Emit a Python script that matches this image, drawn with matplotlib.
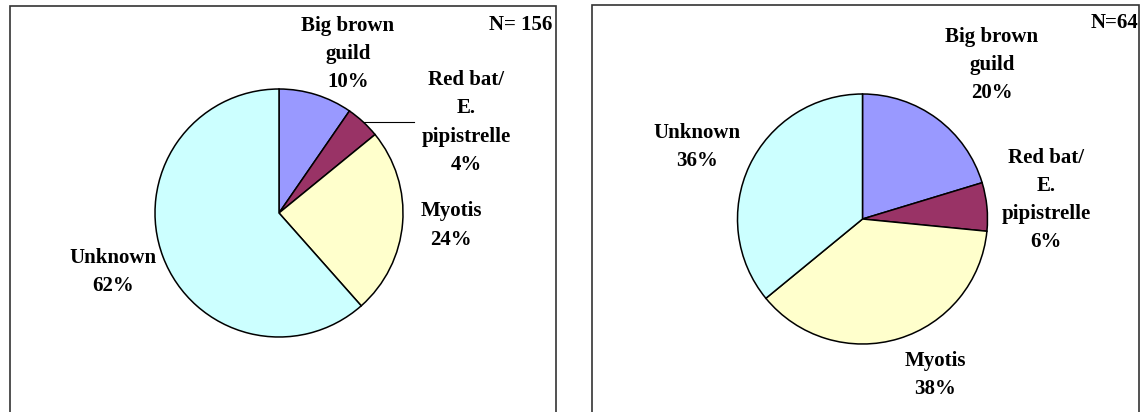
import numpy as np
import matplotlib
matplotlib.use('Agg')
import matplotlib.pyplot as plt
from matplotlib.patches import Rectangle

# data: call counts per species group
groups = ["Big brown\nguild", "Red bat/\nE.\npipistrelle", "Myotis", "Unknown"]
colors = ["#9999FF", "#993366", "#FFFFCC", "#CCFFFF"]
counts_left = [15, 7, 38, 96]     # N = 156
counts_right = [13, 4, 24, 23]    # N = 64
n_left_label = "N= 156"
n_right_label = "N=64"

W, H = 1141, 412
fig = plt.figure(figsize=(W / 100, H / 100), dpi=100)
ax = fig.add_axes([0, 0, 1, 1])

def fy(y):
    # convert top-based pixel y to data y
    return H - y

font = dict(family=['Liberation Serif', 'DejaVu Serif'], weight='bold', fontsize=15)


def draw_panel(counts, center, radius, label_pos, n_label, n_pos, leader=None):
    total = sum(counts)
    wedges, _ = ax.pie(counts, colors=colors, startangle=90, counterclock=False,
                       center=(center[0], fy(center[1])), radius=radius,
                       wedgeprops=dict(edgecolor='black', linewidth=1.1))
    for name, c, pos in zip(groups, counts, label_pos):
        pct = round(c / total * 100)
        ax.text(pos[0], fy(pos[1]), f"{name}\n{pct}%", ha='center', va='center',
                linespacing=1.55, **font)
    ax.text(n_pos[0], fy(n_pos[1]), n_label, ha='right', va='center', **font)

    # leader line for the small slice
    if leader is not None:
        i, x_end = leader
        w = wedges[i]
        ang = np.deg2rad((w.theta1 + w.theta2) / 2)
        x0 = center[0] + radius * np.cos(ang)
        y0 = fy(center[1]) + radius * np.sin(ang)
        ax.plot([x0, x_end], [y0, y0], color='black', linewidth=0.8)


draw_panel(counts_left, (279, 213), 124,
           [(348, 54), (466, 122.5), (451, 225.5), (113, 272)],
           n_left_label, (552, 25), leader=(1, 414))

draw_panel(counts_right, (862.5, 219), 125,
           [(992, 65), (1046, 200), (935, 375), (697, 147)],
           n_right_label, (1138, 23))

# panel frames (bottom edges run off the picture)
for x0, x1, top in [(9.5, 555.5, 6), (591.5, 1139, 5)]:
    ax.add_patch(Rectangle((x0, -20), x1 - x0, fy(top) + 20, fill=False,
                           edgecolor='#333333', linewidth=1.2))

ax.set_xlim(0, W)
ax.set_ylim(0, H)
ax.set_aspect('auto')
ax.axis('off')

plt.savefig("out.png", dpi=100)
